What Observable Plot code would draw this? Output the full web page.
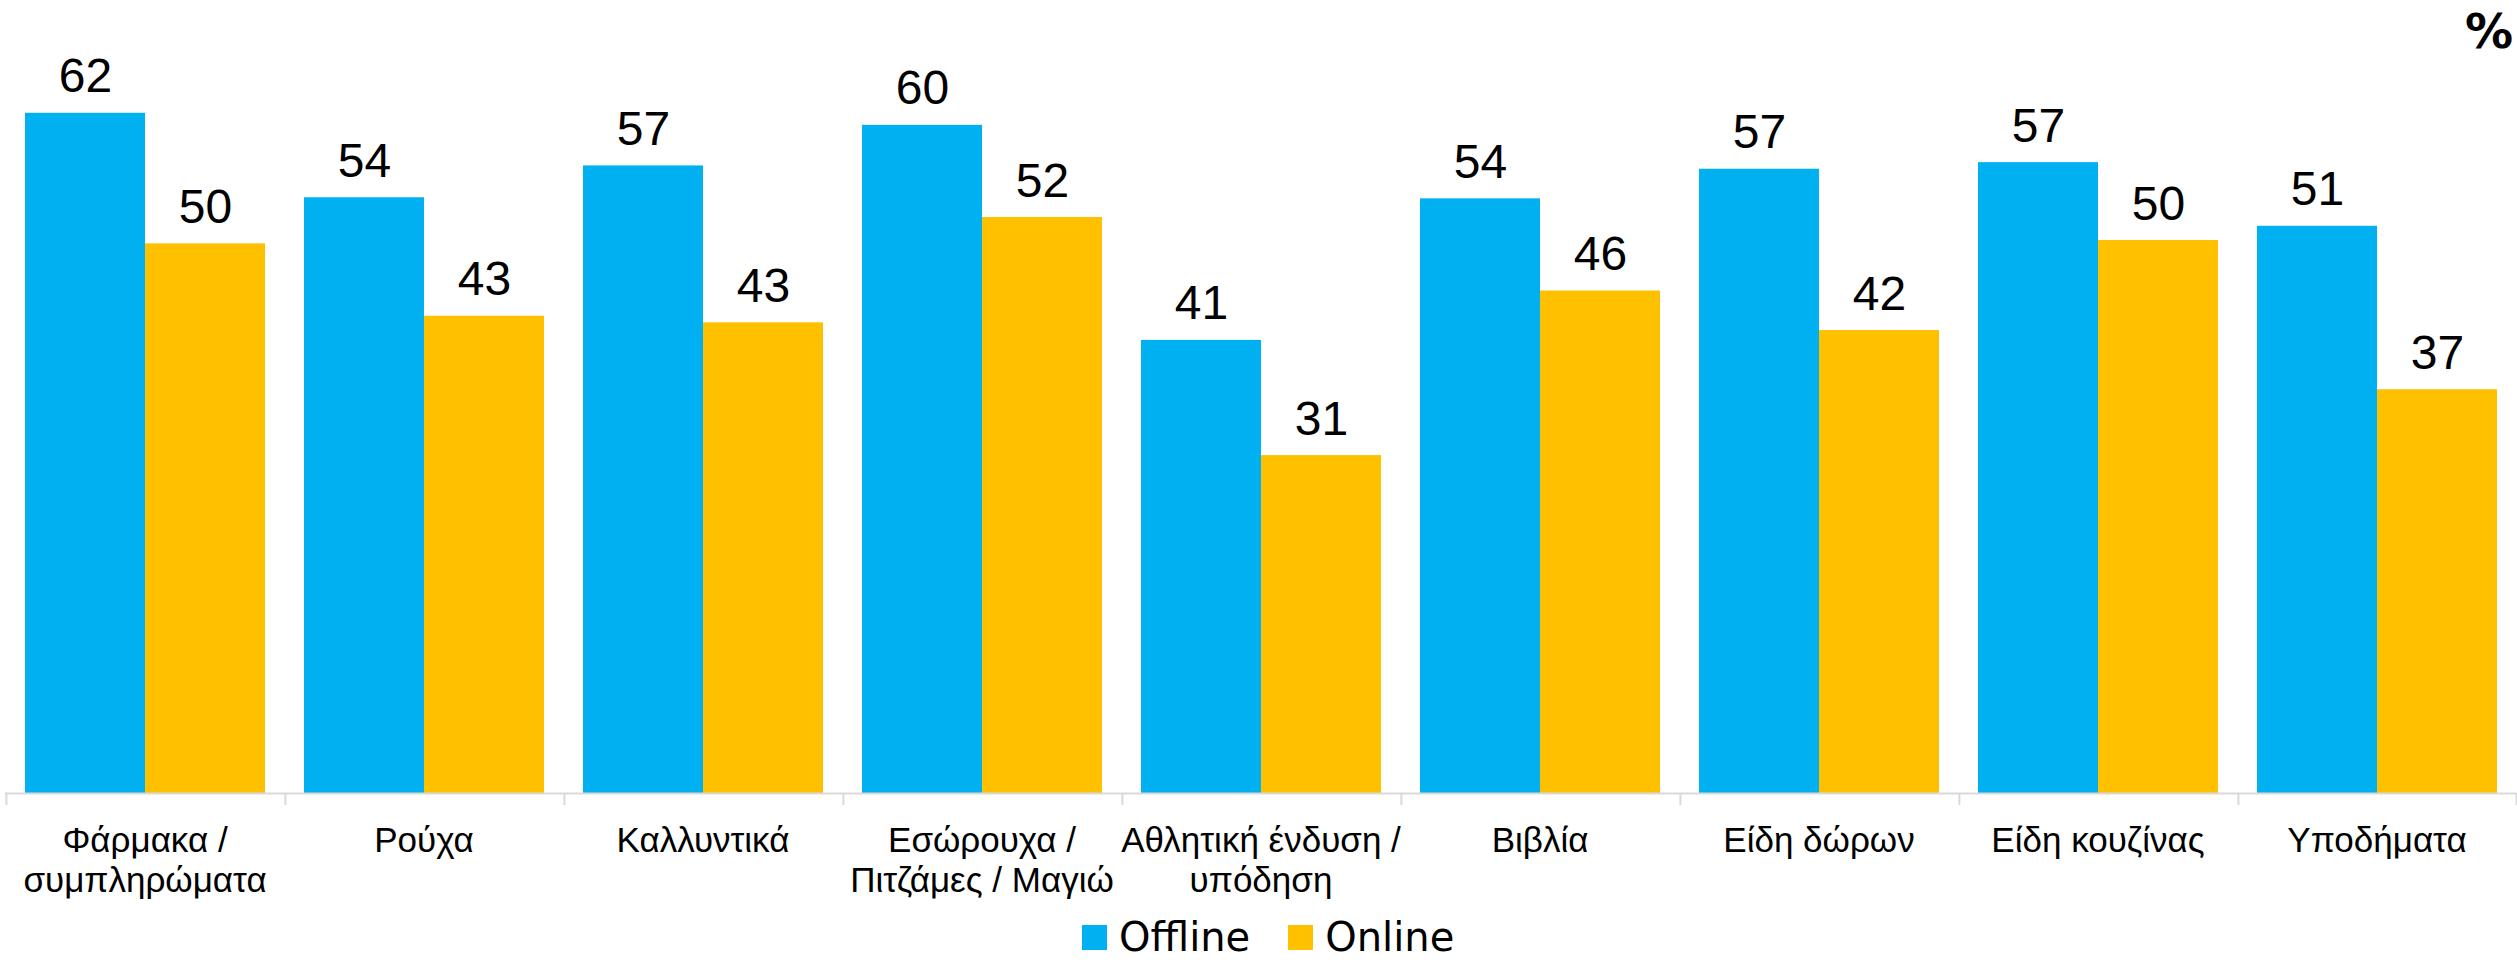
<!DOCTYPE html>
<html>
<head>
<meta charset="utf-8">
<script src="https://cdn.jsdelivr.net/npm/d3@7"></script>
<script src="https://cdn.jsdelivr.net/npm/@observablehq/plot@0.6"></script>
<style>
  html, body { margin: 0; padding: 0; background: #fff; }
  #wrap { position: relative; width: 2517px; height: 964px; overflow: hidden; background: #fff; }
  #pct { position: absolute; right: 4px; top: 7px; line-height: 1; font-family: "DejaVu Sans", sans-serif; font-weight: bold; font-size: 48px; color: #000; }
  #legend { position: absolute; left: 1082px; top: 917px; line-height: 1; display: flex; align-items: center; font-family: "DejaVu Sans", sans-serif; font-size: 40px; color: #000; }
  #legend .sw { width: 25px; height: 25px; display: inline-block; margin-right: 12px; }
  #legend .item { display: flex; align-items: center; margin-right: 38px; }
</style>
</head>
<body>
<div id="wrap">
  <div id="chart"></div>
  <div id="pct">%</div>
  <div id="legend"></div>
</div>
<script>
const categories = ["Φάρμακα /\nσυμπληρώματα", "Ρούχα", "Καλλυντικά", "Εσώρουχα /\nΠιτζάμες / Μαγιώ", "Αθλητική ένδυση /\nυπόδηση", "Βιβλία", "Είδη δώρων", "Είδη κουζίνας", "Υποδήματα"];
const series = ["Offline", "Online"];
// bar heights
const offline = [62.0, 54.3, 57.2, 60.9, 41.3, 54.2, 56.9, 57.5, 51.7];
const online = [50.1, 43.5, 42.9, 52.5, 30.8, 45.8, 42.2, 50.4, 36.8];
// value labels as printed
const offlineLabels = ["62", "54", "57", "60", "41", "54", "57", "57", "51"];
const onlineLabels = ["50", "43", "43", "52", "31", "46", "42", "50", "37"];
const colors = ["#00B0F0", "#FFC000"];

const rows = [];
categories.forEach((c, i) => {
  rows.push({category: c, series: "Offline", value: offline[i], label: offlineLabels[i]});
  rows.push({category: c, series: "Online", value: online[i], label: onlineLabels[i]});
});

const W = 2517, H = 905, mL = 4, mR = 1, mT = 25, mB = 112;
const padOuter = 0.154;
const facetW = (W - mL - mR) / categories.length;
const step = facetW / (series.length + 2 * padOuter);
const edge = step * (series.length / 2 + padOuter) - step / 2; // first band center to facet edge
const tickDepth = 1.1;
const numFont = "'Liberation Sans', Arial, sans-serif";

const chart = Plot.plot({
  width: W, height: H,
  marginTop: mT, marginBottom: mB, marginLeft: mL, marginRight: mR,
  fx: {domain: categories, padding: 0, axis: null, label: null},
  x: {domain: series, paddingInner: 0, paddingOuter: padOuter, axis: null},
  y: {domain: [0, 70], axis: null},
  color: {domain: series, range: colors},
  marks: [
    Plot.barY(rows, {fx: "category", x: "series", y: "value", fill: "series"}),
    Plot.ruleY([0], {stroke: "#d9d9d9", strokeWidth: 2}),
    Plot.ruleX(categories, {fx: d => d, x: () => series[0], y1: 0, y2: -tickDepth, dx: -edge, stroke: "#d9d9d9", strokeWidth: 2}),
    Plot.ruleX([categories[categories.length - 1]], {fx: d => d, x: () => series[1], y1: 0, y2: -tickDepth, dx: edge, stroke: "#d9d9d9", strokeWidth: 2}),
    Plot.text(rows, {fx: "category", x: "series", y: "value", text: "label", lineAnchor: "bottom", dy: -21, fontSize: 48, fontFamily: numFont, fill: "#000"}),
    Plot.text(categories, {fx: d => d, text: d => d, frameAnchor: "bottom", lineAnchor: "top", dy: 30, fontSize: 35, lineHeight: 1.15, fontFamily: numFont, fill: "#000"})
  ]
});
document.getElementById("chart").appendChild(chart);

const legend = document.getElementById("legend");
series.forEach((s, i) => {
  const item = document.createElement("div");
  item.className = "item";
  const sw = document.createElement("span");
  sw.className = "sw";
  sw.style.background = colors[i];
  const label = document.createElement("span");
  label.textContent = s;
  item.appendChild(sw);
  item.appendChild(label);
  legend.appendChild(item);
});
</script>
</body>
</html>
